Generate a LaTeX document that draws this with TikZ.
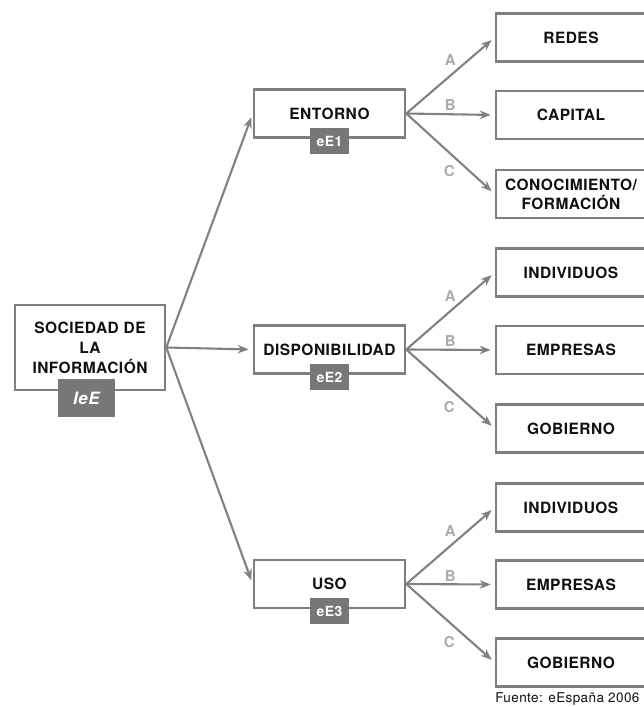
\documentclass[tikz,border=0pt]{standalone}
\usepackage{fontspec}
\setmainfont{TeX Gyre Heros}[LetterSpace=3]
\usetikzlibrary{arrows.meta}
\definecolor{bordergray}{HTML}{7F7F7F}
\definecolor{taggray}{HTML}{777777}
\definecolor{arrowgray}{HTML}{808080}
\definecolor{lblgray}{HTML}{ABABAB}
\definecolor{txt}{HTML}{101010}
\begin{document}
\begin{tikzpicture}[x=1pt,y=-1pt,
  box/.style={draw=bordergray, line width=2.6pt, fill=white, minimum width=151pt, minimum height=48pt,
    inner sep=0pt, align=center, text=txt, font=\bfseries\fontsize{15.5}{19}\selectfont},
  rbox/.style={box, minimum width=150pt},
  tagbox/.style={fill=taggray, text=white, inner sep=0pt, minimum width=39pt, minimum height=26pt,
    font=\bfseries\fontsize{14}{14}\selectfont},
  arr/.style={draw=arrowgray, line width=2.1pt, -{Stealth[length=11pt,width=8.5pt]}, shorten >=4pt},
  lbl/.style={text=lblgray, font=\bfseries\fontsize{15}{15}\selectfont}]
\useasboundingbox (0,0) rectangle (644,707);
\clip (0,0) rectangle (644,707);

% left root
\node[box, minimum width=150pt, minimum height=85pt, font=\bfseries\fontsize{15.5}{20}\selectfont] (soc) at (90,347.5) {SOCIEDAD DE\\LA\\INFORMACIÓN};
\node[tagbox, minimum width=57pt, minimum height=38pt, font=\bfseries\itshape\fontsize{17}{17}\selectfont] (ieE) at (86.5,398) {IeE};

% middle
\node[box] (ent) at (329.5,113.5) {ENTORNO};
\node[box] (dis) at (329.5,349.5) {DISPONIBILIDAD};
\node[box] (uso) at (329.5,584) {USO};
\node[tagbox] (e1) at (329.5,141) {eE1};
\node[tagbox] (e2) at (329.5,377) {eE2};
\node[tagbox] (e3) at (329.5,611) {eE3};

% right
\node[rbox] (redes) at (571,37.5) {REDES};
\node[rbox] (capital) at (571,115) {CAPITAL};
\node[rbox] (conoc) at (571,194) {CONOCIMIENTO/\\FORMACIÓN};
\node[rbox] (indA) at (571,272.5) {INDIVIDUOS};
\node[rbox] (empA) at (571,350) {EMPRESAS};
\node[rbox] (gobA) at (571,428.5) {GOBIERNO};
\node[rbox] (indB) at (571,507.5) {INDIVIDUOS};
\node[rbox] (empB) at (571,584.5) {EMPRESAS};
\node[rbox] (gobB) at (571,662.5) {GOBIERNO};

% arrows left
\draw[arr] (soc.east) -- (ent.west);
\draw[arr] (soc.east) -- (dis.west);
\draw[arr] (soc.east) -- (uso.west);

% arrows right
\foreach \s/\a/\b/\c in {ent/redes/capital/conoc, dis/indA/empA/gobA, uso/indB/empB/gobB}{
  \draw[arr] (\s.east) -- (\a.west);
  \draw[arr] (\s.east) -- (\b.west);
  \draw[arr] (\s.east) -- (\c.west);
  \path (\s.east) ++(44,-53) node[lbl] {A};
  \path (\s.east) ++(44,-8) node[lbl] {B};
  \path (\s.east) ++(43,58) node[lbl] {C};
}

\node[anchor=base east, text=txt, font=\fontsize{13.5}{14}\selectfont] (src) at (643,702) {Fuente: eEspaña 2006};
\end{tikzpicture}
\end{document}
